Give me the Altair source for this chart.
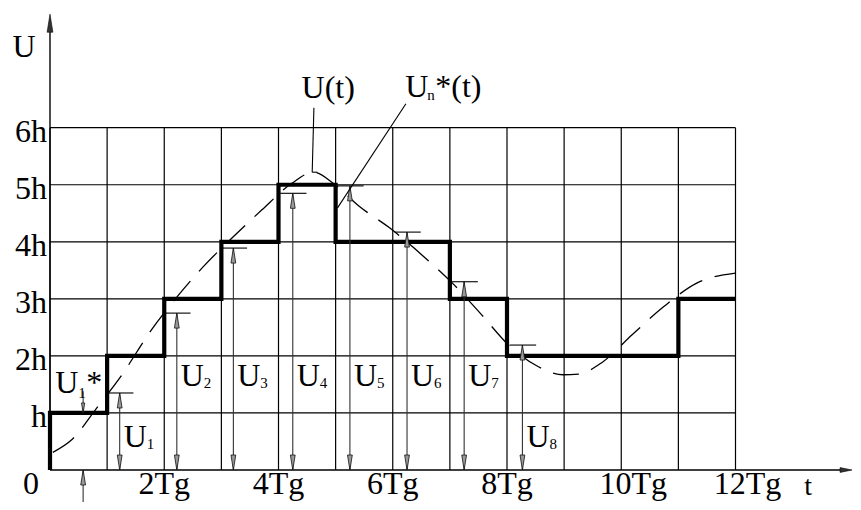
import altair as alt
import pandas as pd

# ---------------- data ----------------
# staircase U_n*(t)  (first two points draw the rise at t = 0)
step_t = [0, 0, 1, 2, 3, 4, 5, 6, 7, 8, 9, 10, 11, 12]
step_u = [0, 1, 2, 3, 4, 5, 4, 4, 3, 2, 2, 2, 3, 3]

# continuous signal U(t) (dashed)
curve_t = [0.05, 0.38, 0.82, 1.26, 1.75, 2.22, 2.68, 3.19, 3.71, 4.24, 4.61,
           4.99, 5.39, 5.95, 6.51, 7.04, 7.53, 8.06, 8.55, 8.98, 9.25, 9.67,
           10.19, 10.74, 11.33, 12.0]
curve_u = [0.31, 0.53, 1.09, 1.67, 2.42, 3.03, 3.56, 4.07, 4.56, 5.03, 5.22,
           5.00, 4.64, 4.24, 3.77, 3.28, 2.75, 2.16, 1.81, 1.67, 1.68, 1.89,
           2.37, 2.86, 3.28, 3.45]

# samples U1 ... U8
sample_names = ["1", "2", "3", "4", "5", "6", "7", "8"]
sample_t = [1.22, 2.22, 3.21, 4.25, 5.25, 6.25, 7.25, 8.27]
sample_u = [1.35, 2.75, 3.89, 4.85, 4.98, 4.17, 3.30, 2.19]
sample_label_u = [0.40, 1.47, 1.47, 1.47, 1.47, 1.47, 1.47, 0.40]

# axes / grid
grid_t = [0, 1, 2, 3, 4, 5, 6, 7, 8, 9, 10, 11, 12]
grid_u = [1, 2, 3, 4, 5, 6]
y_tick_labels = ["h", "2h", "3h", "4h", "5h", "6h"]
x_ticks_a = [2, 4, 6, 8]
x_labels_a = ["2Tg", "4Tg", "6Tg", "8Tg"]
x_ticks_b = [10, 12]
x_labels_b = ["10Tg", "12Tg"]

FONT = "Liberation Serif"
XS = alt.Scale(domain=[-0.7352, 14.0569], nice=False, zero=False)
YS = alt.Scale(domain=[-0.5609, 8.098], nice=False, zero=False)

UP = "M0,0L0.16,1L-0.16,1Z"
DOWN = "M0,0L0.16,-1L-0.16,-1Z"
RIGHT = "M0,0L-1,0.2L-1,-0.2Z"
Q = "quantitative"


def X(field=None, datum=None):
    if field is None:
        return alt.X(datum=datum, type=Q, scale=XS, axis=None)
    return alt.X(field, type=Q, scale=XS, axis=None)


def Y(field=None, datum=None):
    if field is None:
        return alt.Y(datum=datum, type=Q, scale=YS, axis=None)
    return alt.Y(field, type=Q, scale=YS, axis=None)


one = pd.DataFrame({"k": [0]})
step_df = pd.DataFrame({"t": step_t, "u": step_u, "i": range(len(step_t))})
curve_df = pd.DataFrame({"t": curve_t, "u": curve_u})
samp_df = pd.DataFrame({"name": sample_names, "t": sample_t, "u": sample_u,
                        "lu": sample_label_u})
gx_df = pd.DataFrame({"t": grid_t})
gy_df = pd.DataFrame({"u": grid_u, "lab": y_tick_labels})
xa_df = pd.DataFrame({"t": x_ticks_a, "lab": x_labels_a})
xb_df = pd.DataFrame({"t": x_ticks_b, "lab": x_labels_b})

layers = []

# grid
layers.append(alt.Chart(gx_df).mark_rule(color="black", strokeWidth=1.2).encode(
    x=X("t"), y=Y(datum=0), y2=alt.Y2(datum=6)))
layers.append(alt.Chart(gy_df).mark_rule(color="black", strokeWidth=1.2).encode(
    y=Y("u"), x=X(datum=0), x2=alt.X2(datum=12)))

# axes with arrows
layers.append(alt.Chart(one).mark_rule(color="black", strokeWidth=1.4).encode(
    x=X(datum=0), y=Y(datum=0), y2=alt.Y2(datum=7.8)))
layers.append(alt.Chart(one).mark_rule(color="black", strokeWidth=1.4).encode(
    y=Y(datum=0), x=X(datum=0), x2=alt.X2(datum=13.9)))
layers.append(alt.Chart(one).mark_point(shape=UP, size=1300, filled=True, opacity=1,
                                        fill="#333", stroke="black", strokeWidth=0.6).encode(
    x=X(datum=0), y=Y(datum=7.99)))
layers.append(alt.Chart(one).mark_point(shape=RIGHT, size=576, filled=True, opacity=1,
                                        fill="#333", stroke="black", strokeWidth=0.6).encode(
    x=X(datum=14.04), y=Y(datum=0)))

# dashed continuous signal
layers.append(alt.Chart(curve_df).mark_line(color="black", strokeWidth=1.3,
                                            strokeDash=[26, 13], interpolate="monotone").encode(
    x=X("t"), y=Y("u")))

# staircase
layers.append(alt.Chart(step_df).mark_line(color="black", strokeWidth=4.2,
                                           interpolate="step-after", strokeJoin="miter").encode(
    x=X("t"), y=Y("u"), order=alt.Order("i", type=Q)))

# sample arrows
layers.append(alt.Chart(samp_df).mark_rule(color="#333", strokeWidth=1.1).encode(
    x=X("t"), y=Y("u"), y2=alt.Y2(datum=0)))
layers.append(alt.Chart(samp_df).transform_calculate(
    tl="datum.t - 0.22", tr="datum.t + 0.24").mark_rule(color="black", strokeWidth=1.1).encode(
    y=Y("u"), x=X("tl"), x2=alt.X2("tr")))
layers.append(alt.Chart(samp_df).mark_point(shape=UP, size=900, filled=True, opacity=1,
                                            fill="#999", stroke="#111", strokeWidth=0.8).encode(
    x=X("t"), y=Y("u")))
layers.append(alt.Chart(samp_df).mark_point(shape=DOWN, size=900, filled=True, opacity=1,
                                            fill="#999", stroke="#111", strokeWidth=0.8).encode(
    x=X("t"), y=Y(datum=0)))

# U1* arrow and the arrow under the time axis
layers.append(alt.Chart(one).mark_rule(color="#333", strokeWidth=1.1).encode(
    x=X(datum=0.58), y=Y(datum=1.0), y2=alt.Y2(datum=1.38)))
layers.append(alt.Chart(one).mark_point(shape=DOWN, size=400, filled=True, opacity=1,
                                        fill="#999", stroke="#111", strokeWidth=0.8).encode(
    x=X(datum=0.58), y=Y(datum=1.0)))
layers.append(alt.Chart(one).mark_rule(color="#333", strokeWidth=1.1).encode(
    x=X(datum=0.58), y=Y(datum=-0.7), y2=alt.Y2(datum=0)))
layers.append(alt.Chart(one).mark_point(shape=UP, size=900, filled=True, opacity=1,
                                        fill="#999", stroke="#111", strokeWidth=0.8).encode(
    x=X(datum=0.58), y=Y(datum=0)))

# leader lines
layers.append(alt.Chart(one).mark_rule(color="black", strokeWidth=1.1).encode(
    x=X(datum=4.62), y=Y(datum=6.35), x2=alt.X2(datum=4.59), y2=alt.Y2(datum=5.22)))
layers.append(alt.Chart(one).mark_rule(color="black", strokeWidth=1.1).encode(
    x=X(datum=4.59), y=Y(datum=5.22), x2=alt.X2(datum=4.68), y2=alt.Y2(datum=5.22)))
layers.append(alt.Chart(one).mark_rule(color="black", strokeWidth=1.1).encode(
    x=X(datum=6.23), y=Y(datum=6.42), x2=alt.X2(datum=5.03), y2=alt.Y2(datum=4.59)))

# ---------------- texts ----------------
def txt(size=32, baseline="alphabetic", **kw):
    return dict(font=FONT, fontSize=size, color="black", baseline=baseline, **kw)

layers.append(alt.Chart(gy_df).mark_text(**txt(align="right", dx=-3, dy=14)).encode(
    x=X(datum=0), y=Y("u"), text=alt.Text("lab", type="nominal")))
layers.append(alt.Chart(xa_df).mark_text(**txt(align="center")).encode(
    x=X("t"), y=Y(datum=-0.42), text=alt.Text("lab", type="nominal")))
layers.append(alt.Chart(xb_df).mark_text(**txt(align="center", dx=12)).encode(
    x=X("t"), y=Y(datum=-0.42), text=alt.Text("lab", type="nominal")))
layers.append(alt.Chart(one).mark_text(**txt(align="center", baseline="bottom", text="0")).encode(
    x=X(datum=-0.333), y=Y(datum=-0.54)))
layers.append(alt.Chart(one).mark_text(**txt(align="center", text="U")).encode(
    x=X(datum=-0.455), y=Y(datum=7.24)))
layers.append(alt.Chart(one).mark_text(**txt(size=28, align="center", baseline="bottom", text="t")).encode(
    x=X(datum=13.27), y=Y(datum=-0.54)))

# sample labels U1..U8
layers.append(alt.Chart(samp_df).mark_text(**txt(align="left", dx=4, text="U")).encode(
    x=X("t"), y=Y("lu")))
layers.append(alt.Chart(samp_df).mark_text(**txt(size=15, align="left", dx=27, dy=2)).encode(
    x=X("t"), y=Y("lu"), text=alt.Text("name", type="nominal")))

# U1* label
layers.append(alt.Chart(one).mark_text(**txt(align="left", text="U")).encode(
    x=X(datum=0.09), y=Y(datum=1.35)))
layers.append(alt.Chart(one).mark_text(**txt(size=15, align="left", dx=23, dy=5, text="1")).encode(
    x=X(datum=0.09), y=Y(datum=1.35)))
layers.append(alt.Chart(one).mark_text(**txt(align="left", dx=31, text="*")).encode(
    x=X(datum=0.09), y=Y(datum=1.35)))

# U(t) label
layers.append(alt.Chart(one).mark_text(**txt(align="center", text="U(t)")).encode(
    x=X(datum=4.87), y=Y(datum=6.52)))
# Un*(t) label
layers.append(alt.Chart(one).mark_text(**txt(align="left", text="U")).encode(
    x=X(datum=6.22), y=Y(datum=6.54)))
layers.append(alt.Chart(one).mark_text(**txt(size=15, align="left", dx=22, dy=3, text="n")).encode(
    x=X(datum=6.22), y=Y(datum=6.54)))
layers.append(alt.Chart(one).mark_text(**txt(align="left", dx=30, text="*(t)")).encode(
    x=X(datum=6.22), y=Y(datum=6.54)))

chart = alt.layer(*layers).properties(
    width=845, height=494, autosize="none", padding=0, background="white"
).configure_view(strokeWidth=0)

chart.save("out.html", embed_options={"renderer": "svg", "actions": False})
